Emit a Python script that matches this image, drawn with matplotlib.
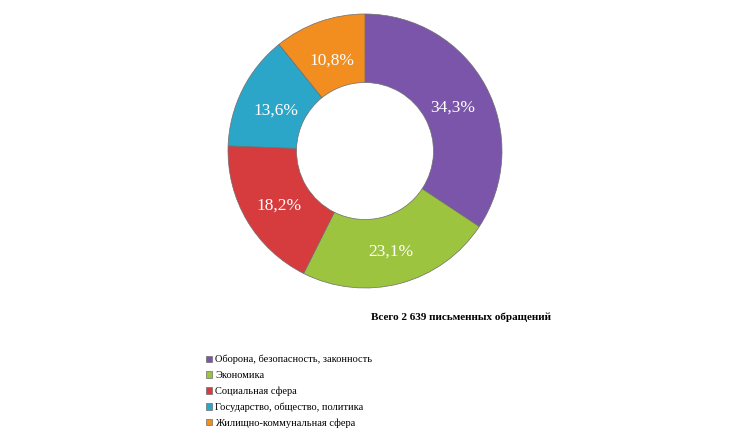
import matplotlib
matplotlib.use("Agg")
import matplotlib.pyplot as plt
import numpy as np

categories = ["Оборона, безопасность, законность", "Экономика", "Социальная сфера",
              "Государство, общество, политика", "Жилищно-коммунальная сфера"]
shares = [34.3, 23.1, 18.2, 13.6, 10.8]
labels = ["34,3%", "23,1%", "18,2%", "13,6%", "10,8%"]
colors = ["#7b55aa", "#9cc43e", "#d63b3d", "#2ca6c8", "#f28d20"]
title = "Всего 2 639 письменных обращений"

plt.rcParams['font.family'] = ['Liberation Serif', 'DejaVu Serif']

W, H = 735, 441
fig = plt.figure(figsize=(W / 100, H / 100), dpi=100)
cx, cy, r = 365, 151, 137
ax = fig.add_axes([(cx - r) / W, (H - cy - r) / H, 2 * r / W, 2 * r / H])

wedges, _ = ax.pie(shares, colors=colors, startangle=90, counterclock=False, radius=1,
                   wedgeprops=dict(width=0.5, edgecolor="#6e6e6e", linewidth=0.5))
ax.set_xlim(-1, 1)
ax.set_ylim(-1, 1)
ax.set_aspect("equal")
ax.axis("off")

# подписи в середине кольца
for w, lab in zip(wedges, labels):
    mid = np.deg2rad((w.theta1 + w.theta2) / 2)
    ax.text(0.73 * np.cos(mid), 0.73 * np.sin(mid) - 0.03, lab, color="white",
            fontsize=12.5, ha="center", va="center")

fig.text(461 / W, 1 - 317 / H, title, fontsize=8, fontweight="bold",
         ha="center", va="center")

fig.legend(wedges, categories, loc="upper left", bbox_to_anchor=(206 / W, 1 - 355 / H),
           frameon=False, fontsize=7.5, handlelength=0.6, handleheight=0.6,
           handletextpad=0.3, labelspacing=0.62, borderpad=0, borderaxespad=0)

plt.savefig("out.png", dpi=100)
